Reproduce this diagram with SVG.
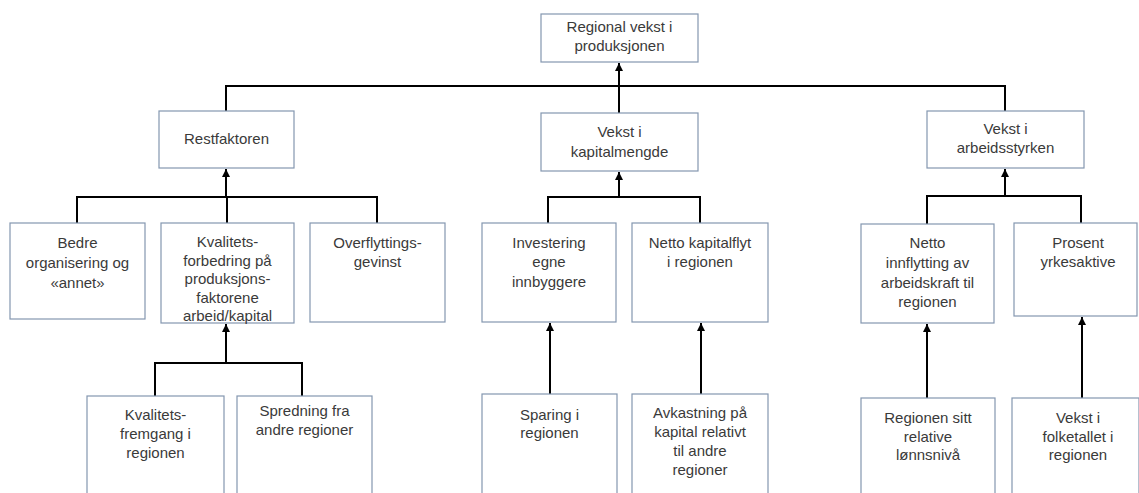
<svg xmlns="http://www.w3.org/2000/svg" width="1139" height="493" viewBox="0 0 1139 493">
<defs>
<style>
.box{fill:#ffffff;stroke:#8497B0;stroke-width:1.2}
.t{font-family:"Liberation Sans",Arial,sans-serif;font-size:15px;fill:#3a3a3a;text-anchor:middle}
.c{fill:none;stroke:#000000;stroke-width:2}
</style>
<marker id="ah" viewBox="0 0 10 10" refX="10" refY="5" markerWidth="8" markerHeight="8" markerUnits="userSpaceOnUse" orient="auto">
<path d="M0,0 L10,5 L0,10 Z" fill="#000000"/>
</marker>
</defs>
<rect width="1139" height="493" fill="#ffffff"/>
<g id="connectors">
<line class="c" x1="619" y1="113" x2="619" y2="63" marker-end="url(#ah)"/>
<polyline class="c" points="226,111 226,86 1005,86 1005,111"/>
<line class="c" x1="226" y1="197" x2="226" y2="169" marker-end="url(#ah)"/>
<polyline class="c" points="77,223 77,197 377,197 377,223"/>
<line class="c" x1="227" y1="197" x2="227" y2="223"/>
<line class="c" x1="619" y1="197" x2="619" y2="172" marker-end="url(#ah)"/>
<polyline class="c" points="548,224 548,197 700,197 700,224"/>
<line class="c" x1="1005" y1="196" x2="1005" y2="169" marker-end="url(#ah)"/>
<polyline class="c" points="927,224 927,196 1081,196 1081,224"/>
<line class="c" x1="226" y1="363" x2="226" y2="324" marker-end="url(#ah)"/>
<polyline class="c" points="155,396 155,363 302,363 302,396"/>
<line class="c" x1="550" y1="395" x2="550" y2="323" marker-end="url(#ah)"/>
<line class="c" x1="701" y1="395" x2="701" y2="323" marker-end="url(#ah)"/>
<line class="c" x1="927" y1="398" x2="927" y2="324" marker-end="url(#ah)"/>
<line class="c" x1="1082" y1="398" x2="1082" y2="317" marker-end="url(#ah)"/>
</g>
<g id="n-top"><rect class="box" x="541" y="14" width="157" height="48"/><text class="t" x="619.5" y="32">Regional vekst i</text><text class="t" x="619.5" y="51">produksjonen</text></g>
<g id="n-rest"><rect class="box" x="159" y="111" width="135" height="57"/><text class="t" x="226.5" y="144">Restfaktoren</text></g>
<g id="n-kapital"><rect class="box" x="541" y="113" width="157" height="58"/><text class="t" x="619.5" y="137">Vekst i</text><text class="t" x="619.5" y="157">kapitalmengde</text></g>
<g id="n-arbeid"><rect class="box" x="927" y="111" width="157" height="57"/><text class="t" x="1005.5" y="134">Vekst i</text><text class="t" x="1005.5" y="153">arbeidsstyrken</text></g>
<g id="n-bedre"><rect class="box" x="10" y="223" width="135" height="96"/><text class="t" x="77.5" y="248">Bedre</text><text class="t" x="77.5" y="268">organisering og</text><text class="t" x="77.5" y="288">«annet»</text></g>
<g id="n-kvalitet"><rect class="box" x="161" y="223" width="133" height="100"/><text class="t" x="227.5" y="247">Kvalitets-</text><text class="t" x="227.5" y="265.5">forbedring på</text><text class="t" x="227.5" y="284">produksjons-</text><text class="t" x="227.5" y="302.5">faktorene</text><text class="t" x="227.5" y="321">arbeid/kapital</text></g>
<g id="n-overfl"><rect class="box" x="310" y="223" width="135" height="99"/><text class="t" x="377.5" y="248">Overflyttings-</text><text class="t" x="377.5" y="267">gevinst</text></g>
<g id="n-invest"><rect class="box" x="482" y="223" width="134" height="99"/><text class="t" x="549" y="248">Investering</text><text class="t" x="549" y="267">egne</text><text class="t" x="549" y="287">innbyggere</text></g>
<g id="n-kapflyt"><rect class="box" x="632" y="223" width="136" height="99"/><text class="t" x="700" y="248">Netto kapitalflyt</text><text class="t" x="700" y="267">i regionen</text></g>
<g id="n-innfl"><rect class="box" x="861" y="224" width="133" height="99"/><text class="t" x="927.5" y="248">Netto</text><text class="t" x="927.5" y="268">innflytting av</text><text class="t" x="927.5" y="288">arbeidskraft til</text><text class="t" x="927.5" y="307">regionen</text></g>
<g id="n-prosent"><rect class="box" x="1014" y="223" width="123" height="93"/><text class="t" x="1078" y="248">Prosent</text><text class="t" x="1078" y="267">yrkesaktive</text></g>
<g id="n-kvfrem"><rect class="box" x="87" y="396" width="137" height="104"/><text class="t" x="155.5" y="420">Kvalitets-</text><text class="t" x="155.5" y="439">fremgang i</text><text class="t" x="155.5" y="458">regionen</text></g>
<g id="n-spredning"><rect class="box" x="237" y="396" width="135" height="104"/><text class="t" x="304.5" y="416">Spredning fra</text><text class="t" x="304.5" y="435">andre regioner</text></g>
<g id="n-sparing"><rect class="box" x="482" y="394" width="135" height="106"/><text class="t" x="549.5" y="420">Sparing i</text><text class="t" x="549.5" y="438">regionen</text></g>
<g id="n-avkast"><rect class="box" x="632" y="394" width="136" height="106"/><text class="t" x="700" y="418">Avkastning på</text><text class="t" x="700" y="437">kapital relativt</text><text class="t" x="700" y="456">til andre</text><text class="t" x="700" y="475">regioner</text></g>
<g id="n-lonn"><rect class="box" x="861" y="398" width="134" height="102"/><text class="t" x="928" y="423">Regionen sitt</text><text class="t" x="928" y="442">relative</text><text class="t" x="928" y="460">lønnsnivå</text></g>
<g id="n-folketall"><rect class="box" x="1012" y="398" width="127" height="102"/><text class="t" x="1078" y="423">Vekst i</text><text class="t" x="1078" y="442">folketallet i</text><text class="t" x="1078" y="460">regionen</text></g>
</svg>
